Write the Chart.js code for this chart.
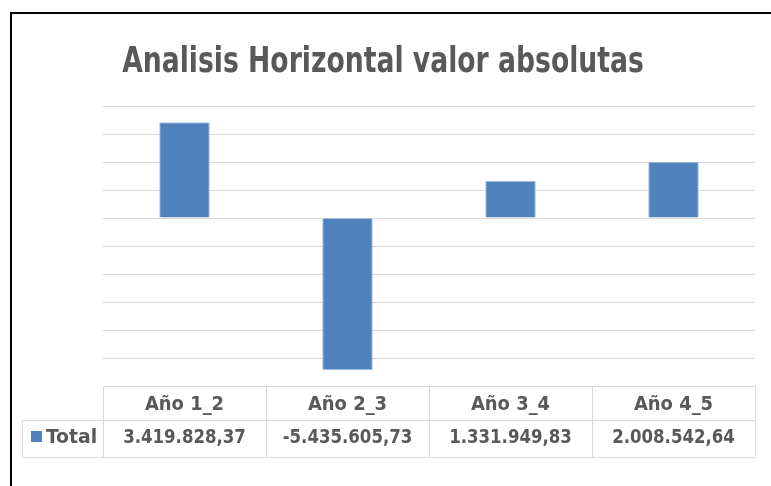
<!DOCTYPE html>
<html>
<head>
<meta charset="utf-8">
<script src="https://cdn.jsdelivr.net/npm/chart.js@4"></script>
<style>
  html, body { margin: 0; padding: 0; background: #fff; }
  #wrap { position: relative; width: 771px; height: 486px; }
  #frame { position: absolute; left: 10px; top: 12px; right: -4px; bottom: -4px; border: 2px solid #000; }
</style>
</head>
<body>
<div id="wrap">
  <div id="frame"></div>
  <canvas id="chart" width="771" height="486" style="position:absolute;left:0;top:0"></canvas>
</div>
<script>
const chartTitle = "Analisis Horizontal valor absolutas";
const categories = ["Año 1_2", "Año 2_3", "Año 3_4", "Año 4_5"];
const totals = [3419828.37, -5435605.73, 1331949.83, 2008542.64];
const seriesName = "Total";

const TEXT = "#595959";
const LINE = "#D9D9D9";
const BLUE = "#4F81BD";
const FONT = '"Liberation Sans Narrow", "DejaVu Sans Condensed", sans-serif';

// 3419828.37 -> "3.419.828,37"
function fmt(v) {
    const neg = v < 0;
    const parts = Math.abs(v).toFixed(2).split(".");
    const int = parts[0].replace(/\B(?=(\d{3})+(?!\d))/g, ".");
    return (neg ? "-" : "") + int + "," + parts[1];
}

// stretch/squeeze text horizontally around (x, y)
function squeezed(ctx, text, x, y, sx) {
    ctx.save();
    ctx.translate(x, y);
    ctx.scale(sx, 1);
    ctx.fillText(text, 0, 0);
    ctx.restore();
}

// title + data table under the plot
const tablePlugin = {
    id: "dataTable",
    afterDraw(chart) {
        const ctx = chart.ctx;
        const xs = chart.scales.x;
        const area = chart.chartArea;
        const step = (area.right - area.left) / categories.length;

        ctx.save();
        ctx.fillStyle = TEXT;
        ctx.textAlign = "center";
        ctx.textBaseline = "alphabetic";
        ctx.font = "bold 35px " + FONT;
        squeezed(ctx, chartTitle, 383, 72, 0.846);

        const top = area.bottom;
        const mid = top + 34;
        const bottom = mid + 37;
        const leftEdge = 22;

        ctx.strokeStyle = LINE;
        ctx.lineWidth = 1;
        ctx.beginPath();
        ctx.moveTo(area.left, top + 0.5); ctx.lineTo(area.right, top + 0.5);
        ctx.moveTo(leftEdge, mid + 0.5); ctx.lineTo(area.right, mid + 0.5);
        ctx.moveTo(leftEdge, bottom + 0.5); ctx.lineTo(area.right, bottom + 0.5);
        ctx.moveTo(leftEdge + 0.5, mid); ctx.lineTo(leftEdge + 0.5, bottom);
        for (let i = 0; i <= categories.length; i++) {
            const x = Math.round(area.left + i * step) + 0.5;
            ctx.moveTo(x, top); ctx.lineTo(x, bottom);
        }
        ctx.stroke();

        ctx.fillStyle = TEXT;
        ctx.font = "bold 19px " + FONT;
        categories.forEach((c, i) => {
            const cx = xs.getPixelForValue(i);
            squeezed(ctx, c, cx, top + 24, 1.05);
            squeezed(ctx, fmt(totals[i]), cx, mid + 23, 0.97);
        });

        ctx.fillStyle = BLUE;
        ctx.fillRect(31, mid + 11, 11, 11);
        ctx.fillStyle = TEXT;
        ctx.textAlign = "left";
        squeezed(ctx, seriesName, 46, mid + 23, 1.1);
        ctx.restore();
    }
};

new Chart(document.getElementById("chart").getContext("2d"), {
    type: "bar",
    data: {
        labels: categories,
        datasets: [{
            label: seriesName,
            data: totals,
            backgroundColor: BLUE,
            borderColor: "#A7C0DE",
            borderWidth: 1,
            barPercentage: 0.31,
            categoryPercentage: 1
        }]
    },
    options: {
        responsive: false,
        animation: false,
        layout: { padding: { left: 103, right: 16, top: 106, bottom: 100 } },
        plugins: {
            legend: { display: false },
            title: { display: false },
            tooltip: { enabled: false }
        },
        scales: {
            x: { display: false },
            y: {
                min: -6000000,
                max: 4000000,
                ticks: { display: false, stepSize: 1000000 },
                border: { display: false },
                grid: { color: LINE, lineWidth: 1, drawTicks: false },
                afterFit(s) { s.width = 0; }
            }
        }
    },
    plugins: [tablePlugin]
});
</script>
</body>
</html>
